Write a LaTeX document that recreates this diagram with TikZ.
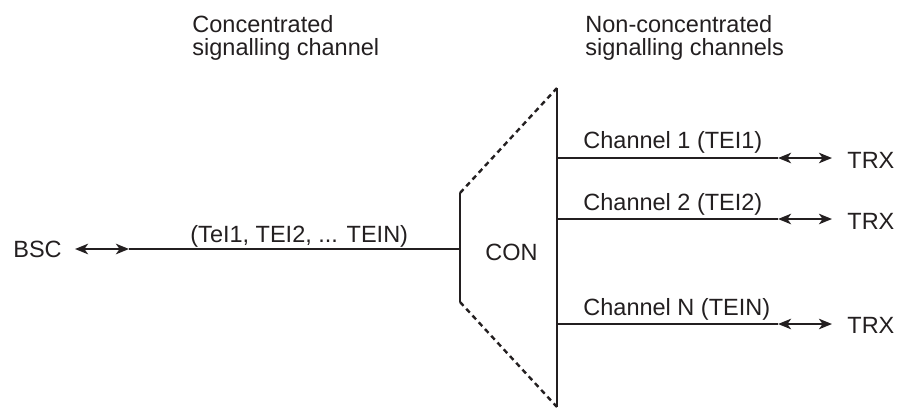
\documentclass[tikz,border=0pt]{standalone}
\usepackage{fontspec}
\setmainfont{Liberation Sans}
\usetikzlibrary{arrows.meta,positioning}
\definecolor{ink}{HTML}{231F20}
\tikzset{
  lbl/.style={inner sep=0pt, text=ink, font=\fontsize{11.75}{11.5}\selectfont},
  hdr/.style={lbl, align=left, anchor=north west},
  ln/.style={draw=ink, line width=1.4pt},
  dashln/.style={draw=ink, line width=1.2pt, dash pattern=on 2.6pt off 2pt},
  dblarr/.style={ln, {Stealth[length=6.5pt, width=5.2pt, inset=1.8pt]}-{Stealth[length=6.5pt, width=5.2pt, inset=1.8pt]}}}

\begin{document}
\begin{tikzpicture}[x=0.5pt, y=-0.5pt]
  \useasboundingbox (0,0) rectangle (903,408);
  % headings
  \node[hdr] (hc) at (192,15) {Concentrated\\signalling channel};
  \node[hdr] (hn) at (585,15) {Non-concentrated\\signalling channels};
  % concentrator
  \coordinate (cl1) at (460,193); \coordinate (cl2) at (460,302);
  \coordinate (cr1) at (557,88); \coordinate (cr2) at (557,407);
  \draw[ln] (cl1) -- (cl2); \draw[ln] (cr1) -- (cr2);
  \draw[dashln] (cl1) -- (cr1); \draw[dashln] (cl2) -- (cr2);
  \node[lbl, anchor=base west] (con) at (485,260) {CON};
  % BSC side
  \node[lbl, anchor=base west] (bsc) at (13,257) {BSC};
  \coordinate (b1) at (75,249); \coordinate (b2) at (129,249); \coordinate (jc) at (460,249);
  \draw[dblarr] (b1) -- (b2); \draw[ln] (b2) -- (jc);
  \node[lbl, anchor=base west] (tc) at (190,242) {(TeI1, TEI2, ... TEIN)};
  % TRX side
  \coordinate (j1) at (557,158); \coordinate (a1) at (778,158); \coordinate (e1) at (832,158);
  \coordinate (j2) at (557,219); \coordinate (a2) at (778,219); \coordinate (e2) at (832,219);
  \coordinate (jn) at (557,324); \coordinate (an) at (778,324); \coordinate (en) at (832,324);
  \draw[ln] (j1) -- (a1); \draw[dblarr] (a1) -- (e1);
  \draw[ln] (j2) -- (a2); \draw[dblarr] (a2) -- (e2);
  \draw[ln] (jn) -- (an); \draw[dblarr] (an) -- (en);
  \node[lbl, anchor=base west] (c1) at (583,148) {Channel 1 (TEI1)};
  \node[lbl, anchor=base west] (c2) at (583,210) {Channel 2 (TEI2)};
  \node[lbl, anchor=base west] (cn) at (583,315) {Channel N (TEIN)};
  \node[lbl, anchor=base west] (trx1) at (847,168) {TRX};
  \node[lbl, anchor=base west] (trx2) at (847,229) {TRX};
  \node[lbl, anchor=base west] (trxn) at (847,333) {TRX};
\end{tikzpicture}
\end{document}
